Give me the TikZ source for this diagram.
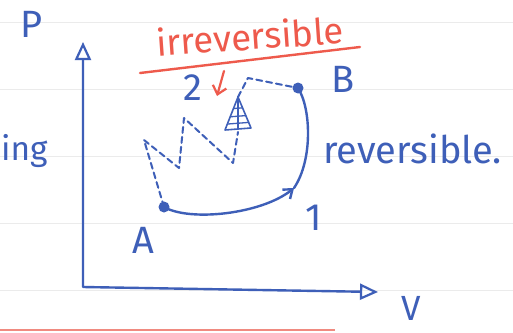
\documentclass[tikz,border=0pt]{standalone}
\usepackage{fontspec}
\setmainfont{Fira Sans}
\usetikzlibrary{arrows.meta, calc, positioning}
\definecolor{penblue}{HTML}{3E5FB8}
\definecolor{penred}{HTML}{EE5A4C}
\definecolor{ruled}{HTML}{EBEBEB}
\definecolor{margin}{HTML}{F08A80}

\begin{document}
\begin{tikzpicture}[
    x=1pt, y=-1pt,
    every node/.style={text=penblue, inner sep=0pt,
                       font=\fontsize{38}{38}\selectfont},
  ]

  % Paper
  \useasboundingbox (0,0) rectangle (513,332);
  \fill[white] (0,0) rectangle (513,332);
  \foreach \y in {22,89,156,223,290}
    \draw[ruled, line width=0.8pt] (0,\y) -- (513,\y);
  \draw[margin, line width=2.2pt] (0,330) -- (335,330);

  % Styles
  \tikzset{
    pen/.style={penblue, line width=2.4pt, line cap=round, line join=round},
    dashpen/.style={pen, line width=2pt, dash pattern=on 6pt off 4pt},
    dot/.style={circle, fill=penblue, minimum size=11pt},
    openhead/.tip={Triangle[open, length=18pt, width=16pt, line width=2.2pt]},
  }

  % Axes
  \coordinate (origin) at (83,287);
  \coordinate (ptip) at (83,42);
  \coordinate (vtip) at (378,292);
  \draw[pen, openhead-openhead] (ptip) -- (origin) -- (vtip);
  \node (P) at (32,24) {P};
  \node[scale=0.92] (V) at (411,308) {V};
  \node[anchor=base west, scale=0.88] (ing) at (1,160) {ing};

  % States
  \node[dot] (A) at (164,207) {};
  \node[dot] (B) at (298,88) {};
  \node (labA) at (143,240) {A};
  \node (labB) at (343,79) {B};
  \node (lab1) at (314,218) {1};
  \node (lab2) at (193,88) {2};

  % Reversible path A -> 1 -> B
  \coordinate (one) at (294,188);
  \draw[pen, -{Straight Barb[length=8pt, width=12pt]}] (A.center)
    .. controls (190,222) and (262,214) .. (one);
  \draw[pen] (one) .. controls (313,160) and (311,108) .. (B.center);
  \node[anchor=base west] (rev) at (323,163) {reversible.};

  % Irreversible path A -> 2 -> B
  \coordinate (i1) at (144,140);
  \coordinate (i2) at (179,168);
  \coordinate (i3) at (184,118);
  \coordinate (i4) at (233,163);
  \coordinate (cbase) at (238,132);
  \coordinate (ctop) at (238,97);
  \coordinate (i5) at (248,78);
  \draw[dashpen] (A.center) -- (i1) -- (i2) -- (i3) -- (i4) -- (cbase);
  \draw[dashpen] (ctop) -- (i5) -- (B.center);

  % Weight on the piston
  \coordinate (cleft) at (225,130);
  \coordinate (cright) at (251,128);
  \draw[pen, line width=1.6pt] (ctop) -- (cleft) -- (cright) -- cycle;
  \foreach \t in {0.35,0.6,0.82}
    \draw[pen, line width=1.3pt] ($(ctop)!\t!(cleft)$) -- ($(ctop)!\t!(cright)$);
  \draw[pen, line width=1.3pt] (ctop) -- ($(cleft)!0.5!(cright)$);

  % Irreversible label
  \node[text=penred, rotate=4, scale=0.96] (irr) at (250,36) {irreversible};
  \coordinate (ul1) at (140,73);
  \coordinate (ul2) at (360,47);
  \draw[penred, line width=2.4pt, line cap=round] (ul1) -- (ul2);
  \coordinate (ra1) at (224,71);
  \coordinate (ra2) at (217,96);
  \draw[penred, line width=2.2pt, line cap=round,
        -{Straight Barb[length=8pt, width=14pt]}] (ra1) -- (ra2);

\end{tikzpicture}
\end{document}
